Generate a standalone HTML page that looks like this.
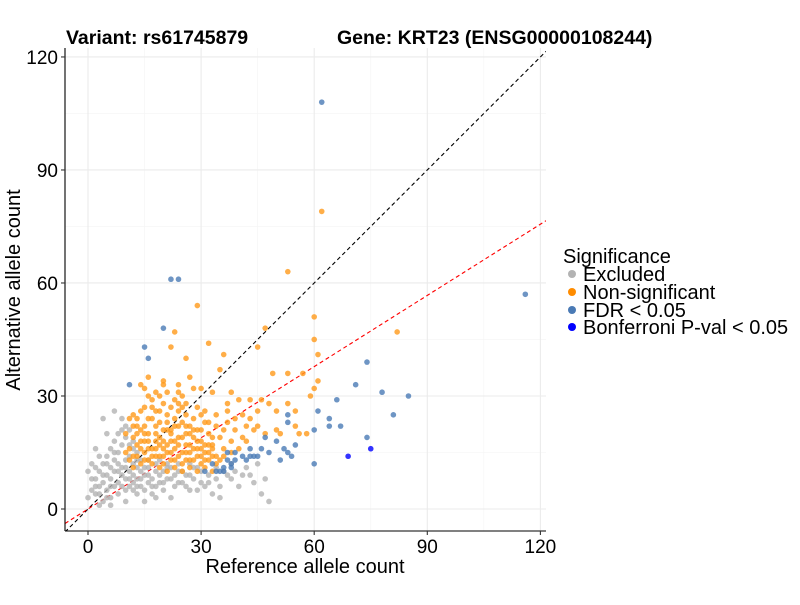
<!DOCTYPE html>
<html><head><meta charset="utf-8"><style>
body{margin:0;background:#fff;}
svg text{font-family:"Liberation Sans",Arial,sans-serif;}
</style></head><body>
<svg id="chart" width="800" height="600" xmlns="http://www.w3.org/2000/svg">
<rect width="800" height="600" fill="#fff"/>
<g id="grid"></g>
<g id="lines"></g>
<g id="points"></g>
<g id="axes"></g>
<text x="66" y="44" font-size="19.5" font-weight="bold">Variant: rs61745879</text>
<text x="337" y="44" font-size="19.5" font-weight="bold">Gene: KRT23 (ENSG00000108244)</text>
<text x="305" y="573" font-size="20" text-anchor="middle">Reference allele count</text>
<text transform="translate(20,290) rotate(-90)" font-size="20" text-anchor="middle">Alternative allele count</text>
<g>
<text x="563" y="263" font-size="20">Significance</text>
<circle cx="572" cy="274" r="4" fill="#b3b3b3"/>
<text x="583" y="281" font-size="20">Excluded</text>
<circle cx="572" cy="292" r="4" fill="#ff8c00"/>
<text x="583" y="299" font-size="20">Non-significant</text>
<circle cx="572" cy="310" r="4" fill="#4a7ab5"/>
<text x="583" y="317" font-size="20">FDR &lt; 0.05</text>
<circle cx="572" cy="327" r="4" fill="#0000ff"/>
<text x="583" y="334" font-size="20">Bonferroni P-val &lt; 0.05</text>
</g>
</svg>
<script>
const xTicks=[0,30,60,90,120];
const yTicks=[0,30,60,90,120];
const minorTicks=[15,45,75,105];
const excluded=[[0,3],[1,5],[2,4],[2,8],[3,6],[3,10],[4,2],[4,7],[4,12],[5,5],[5,9],[5,14],[6,3],[6,8],[6,11],[6,16],[7,6],[7,10],[7,13],[7,18],[8,4],[8,7],[8,12],[8,15],[9,9],[9,11],[9,17],[10,5],[10,8],[10,13],[10,19],[11,6],[11,10],[11,14],[11,21],[12,7],[12,9],[12,12],[13,4],[13,8],[13,11],[14,6],[14,10],[15,5],[15,9],[16,7],[16,11],[17,4],[17,8],[18,6],[18,10],[19,9],[20,5],[20,7],[21,11],[22,8],[23,6],[24,10],[25,7],[26,9],[27,5],[28,8],[29,11],[30,7],[31,6],[32,9],[33,4],[34,8],[35,6],[36,10],[38,8],[40,6],[41,9],[44,7],[46,4],[47,8],[48,2],[43,9],[9,24],[7,26],[4,24],[2,16],[1,12],[0,10],[3,14],[5,20],[9,21],[11,17],[13,15],[12,18],[14,13],[16,13],[19,13],[21,12],[24,12],[27,12],[22,3],[29,5],[18,3],[15,2],[35,3],[38,12],[42,11],[45,12],[6,1],[3,1],[10,2],[1,8],[2,11],[3,4],[4,9],[5,12],[6,6],[7,15],[8,10],[9,6],[10,11],[11,8],[12,5],[13,13],[14,8],[15,11],[16,9],[17,6],[18,12],[19,7],[20,10],[21,8],[22,11],[23,9],[24,7],[25,10],[26,6],[27,9],[28,11],[30,10],[32,7],[34,11],[37,9],[39,10],[8,20],[10,22],[12,16],[2,6],[5,3],[13,6]];
const nonsig=[[62,79],[53,63],[29,54],[60,51],[23,47],[82,47],[47,48],[60,45],[45,43],[32,44],[36,41],[22,43],[61,41],[26,40],[57,36],[49,36],[53,36],[35,37],[61,34],[16,35],[14,33],[15,32],[18,31],[16,30],[20,34],[20,33],[24,33],[24,31],[27,35],[28,32],[30,32],[33,31],[38,31],[40,29],[37,28],[43,29],[46,29],[48,28],[53,28],[39,24],[41,25],[43,24],[45,26],[50,26],[55,26],[59,30],[60,32],[45,22],[47,20],[50,21],[51,20],[55,22],[56,20],[58,20],[34,22],[36,21],[31,23],[29,27],[26,28],[23,29],[11,24],[12,22],[13,20],[14,26],[15,18],[16,24],[17,27],[18,22],[19,19],[20,28],[21,25],[22,21],[23,18],[24,26],[25,23],[26,20],[27,17],[28,24],[29,21],[30,18],[31,26],[32,20],[33,17],[34,25],[35,19],[36,16],[37,23],[38,18],[39,21],[40,16],[41,19],[42,22],[11,16],[12,14],[13,17],[14,12],[15,15],[16,13],[17,16],[18,14],[19,17],[20,12],[21,15],[22,13],[23,16],[24,14],[25,12],[26,15],[27,13],[28,16],[29,14],[30,12],[31,15],[32,13],[33,16],[34,14],[35,13],[12,19],[14,21],[16,20],[18,18],[20,16],[22,18],[24,19],[26,17],[28,19],[30,21],[32,23],[17,12],[19,11],[21,10],[23,11],[25,10],[27,11],[29,10],[31,11],[33,10],[10,20],[10,15],[13,24],[15,22],[19,23],[21,21],[23,24],[25,27],[27,22],[29,18],[31,17],[33,19],[15,27],[17,29],[19,30],[21,31],[25,30],[30,25],[37,26],[44,21],[42,18],[38,15],[36,14],[11,13],[12,11],[13,14],[14,16],[15,13],[16,16],[17,14],[18,16],[19,14],[20,14],[21,17],[22,15],[23,13],[24,17],[25,15],[26,13],[27,15],[28,13],[29,16],[30,14],[31,13],[32,15],[33,14],[34,12],[14,18],[16,18],[18,20],[20,18],[22,20],[24,22],[26,22],[28,21],[12,25],[17,24],[19,26],[22,27],[24,28],[15,20],[13,22],[20,21],[25,19],[27,20],[30,16],[32,17],[18,26],[21,23],[23,22],[26,25]];
const fdr=[[62,108],[22,61],[24,61],[20,48],[15,43],[16,40],[11,33],[116,57],[74,39],[71,33],[78,31],[85,30],[66,29],[61,26],[53,25],[53,23],[64,24],[64,22],[67,22],[81,25],[60,21],[74,19],[60,12],[47,19],[50,18],[55,17],[52,16],[53,15],[54,14],[51,13],[48,15],[46,16],[43,16],[44,14],[45,14],[41,14],[43,14],[39,15],[39,13],[37,15],[37,13],[38,12],[38,11],[34,10],[31,10],[35,10],[36,10],[33,12],[36,11],[42,13]];
const bonf=[[75,16],[69,14]];
const redSlope=0.63;

const X0=88,XS=3.77,Y0=509,YS=3.767;
const L=65,R=546,T=48,B=531;
function sx(v){return X0+v*XS;}
function sy(v){return Y0-v*YS;}
const NS="http://www.w3.org/2000/svg";
function mk(tag,attrs,parent){const e=document.createElementNS(NS,tag);for(const k in attrs)e.setAttribute(k,attrs[k]);parent.appendChild(e);return e;}
const grid=document.getElementById('grid');
minorTicks.forEach(v=>{
 let a=mk('line',{x1:sx(v),x2:sx(v),y1:T,y2:B,stroke:'#f4f4f4','stroke-width':0.6},grid);
 
 
 let b=mk('line',{x1:L,x2:R,y1:sy(v),y2:sy(v),stroke:'#f4f4f4','stroke-width':0.6},grid);
 
 
});
xTicks.forEach(v=>{
 let a=mk('line',{x1:sx(v),x2:sx(v),y1:T,y2:B,stroke:'#ebebeb','stroke-width':1.1},grid);
 
 
});
yTicks.forEach(v=>{
 let a=mk('line',{x1:L,x2:R,y1:sy(v),y2:sy(v),stroke:'#ebebeb','stroke-width':1.1},grid);
 
 
});
const pts=document.getElementById('points');
function drawSet(arr,color,name){
 arr.forEach(d=>{
  const c=mk('circle',{cx:sx(d[0]),cy:sy(d[1]),r:2.8,fill:color,'fill-opacity':0.8},pts);
  
  
 });
}
drawSet(excluded,'#b3b3b3','point-excluded');
drawSet(nonsig,'#ff9a1a','point-nonsignificant');
drawSet(fdr,'#4a7ab5','point-fdr');
drawSet(bonf,'#0000ff','point-bonferroni');
const lines=document.getElementById('lines');
const dx1=(L-X0)/XS, dx2=(R-X0)/XS;
let bl=mk('line',{x1:sx(dx1),y1:sy(dx1),x2:sx(dx2),y2:sy(dx2),stroke:'#000','stroke-width':1.1,'stroke-dasharray':'4,3'},lines);


let rl=mk('line',{x1:sx(dx1),y1:sy(dx1*redSlope),x2:sx(dx2),y2:sy(dx2*redSlope),stroke:'#ff0000','stroke-width':1.1,'stroke-dasharray':'4,3'},lines);


const cp=mk('clipPath',{id:'clip'},document.getElementById('chart'));
mk('rect',{x:L,y:T,width:R-L,height:B-T},cp);
lines.setAttribute('clip-path','url(#clip)');
pts.setAttribute('clip-path','url(#clip)');
const ax=document.getElementById('axes');
let ya=mk('line',{x1:L,x2:L,y1:T,y2:B,stroke:'#000','stroke-width':1.1},ax);


let xa=mk('line',{x1:L,x2:R,y1:B,y2:B,stroke:'#000','stroke-width':1.1},ax);


xTicks.forEach(v=>{
 let t=mk('line',{x1:sx(v),x2:sx(v),y1:B,y2:B+4,stroke:'#333','stroke-width':1.1},ax);
 
 
 let l=mk('text',{x:sx(v),y:B+22,'font-size':19,'text-anchor':'middle',fill:'#000'},ax);
 l.textContent=v;
 
 
});
yTicks.forEach(v=>{
 let t=mk('line',{x1:L-4,x2:L,y1:sy(v),y2:sy(v),stroke:'#333','stroke-width':1.1},ax);
 
 
 let l=mk('text',{x:L-7,y:sy(v)+7,'font-size':19,'text-anchor':'end',fill:'#000'},ax);
 l.textContent=v;
 
 
});
</script>
</body></html>
